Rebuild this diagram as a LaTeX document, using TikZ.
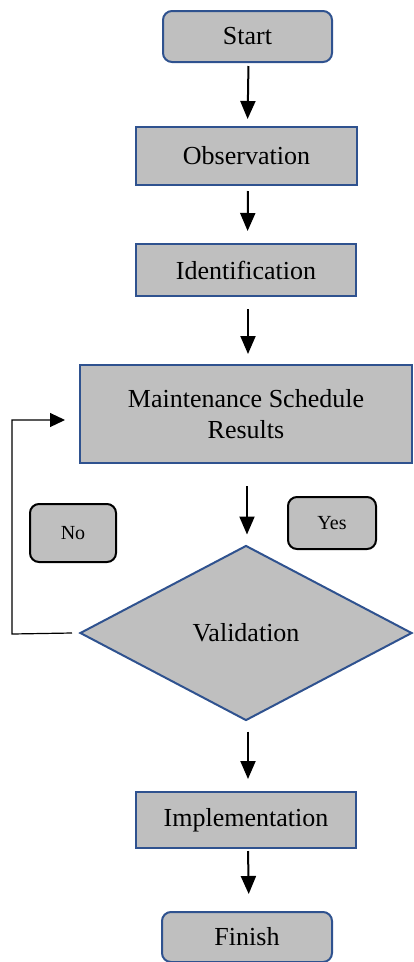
\documentclass[tikz,border=0pt]{standalone}
\usepackage{fontspec}
\setmainfont{Liberation Serif}
\usetikzlibrary{shapes.geometric,arrows.meta}
\definecolor{boxfill}{HTML}{BFBFBF}
\definecolor{boxline}{HTML}{2F528F}
\tikzset{
  flow/.style={draw=boxline, fill=boxfill, line width=2pt, inner sep=0pt, align=center,
    font=\fontsize{26}{31}\selectfont},
  termbox/.style={flow, rounded corners=9pt},
  procbox/.style={flow},
  decbox/.style={flow, diamond, aspect=1.9},
  labbox/.style={draw=black, fill=boxfill, line width=2pt, rounded corners=9pt, inner sep=0pt,
    font=\fontsize{20}{24}\selectfont},
  flowarrow/.style={line width=2pt, -{Triangle[width=15pt,length=18pt]}},
  looparrow/.style={line width=1.2pt, -{Triangle[width=14pt,length=15pt]}}
}
\begin{document}
\begin{tikzpicture}[x=1pt,y=-1pt]
\useasboundingbox (0,0) rectangle (413,962);
\node[termbox, minimum width=169pt, minimum height=51pt] (start) at (247.5,36.5) {Start};
\node[procbox, minimum width=221pt, minimum height=58pt] (obs) at (246.5,156) {Observation};
\node[procbox, minimum width=220pt, minimum height=52pt] (idf) at (246,270) {Identification};
\node[procbox, minimum width=332pt, minimum height=98pt] (msr) at (246,414) {Maintenance Schedule\\Results};
\node[decbox, minimum width=332pt, minimum height=175pt] (val) at (246,633) {Validation};
\node[labbox, minimum width=86pt, minimum height=58pt] (no) at (73,533) {No};
\node[labbox, minimum width=88pt, minimum height=52pt] (yes) at (332,523) {Yes};
\node[procbox, minimum width=220pt, minimum height=56pt] (imp) at (246,820) {Implementation};
\node[termbox, minimum width=170pt, minimum height=50pt] (fin) at (247,937) {Finish};
\coordinate (loopcorner) at (12,634);
\coordinate (loopend) at (65,420);
\draw[flowarrow, shorten <=3pt, shorten >=7pt] ([xshift=1pt]start.south) -- ([xshift=1pt]obs.north);
\draw[flowarrow, shorten <=5pt, shorten >=12pt] ([xshift=1.5pt]obs.south) -- ([xshift=1.5pt]idf.north);
\draw[flowarrow, shorten <=12pt, shorten >=10pt] ([xshift=2pt]idf.south) -- ([xshift=2pt]msr.north);
\draw[flowarrow, shorten <=22pt, shorten >=10pt] ([xshift=1pt]msr.south) -- ([xshift=1pt]val.north);
\draw[flowarrow, shorten <=10pt, shorten >=12pt] ([xshift=2pt]val.south) -- ([xshift=2pt]imp.north);
\draw[flowarrow, shorten <=2pt, shorten >=17pt] ([xshift=2pt]imp.south) -- ([xshift=2pt]fin.north);
\draw[looparrow] ([xshift=-7pt]val.west) -- (loopcorner) |- (loopend);
\end{tikzpicture}
\end{document}
